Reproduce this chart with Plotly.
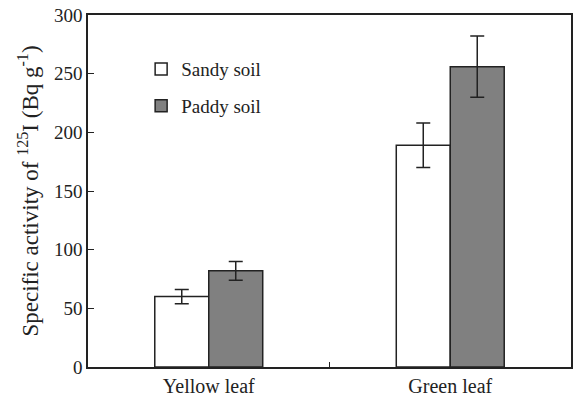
import plotly.graph_objects as go

categories = ["Yellow leaf", "Green leaf"]
sandy_values = [60, 189]
sandy_err = [6, 19]
paddy_values = [82, 256]
paddy_err = [8, 26]
y_ticks = [0, 50, 100, 150, 200, 250, 300]

font_family = "Liberation Serif, Times New Roman, serif"

fig = go.Figure()
fig.add_trace(go.Bar(
    x=categories, y=sandy_values, name="Sandy soil",
    marker=dict(color="white", line=dict(color="#222", width=1.5)),
    error_y=dict(type="data", array=sandy_err, color="#222", thickness=1.5, width=7),
    legendgroup="a",
))
fig.add_trace(go.Bar(
    x=categories, y=paddy_values, name="Paddy soil",
    marker=dict(color="#808080", line=dict(color="#222", width=1.5)),
    error_y=dict(type="data", array=paddy_err, color="#222", thickness=1.5, width=7),
    legendgroup="b",
))

fig.update_layout(
    width=574, height=400,
    margin=dict(l=88, r=3, t=15, b=33),
    paper_bgcolor="white", plot_bgcolor="white",
    barmode="group", bargap=0.553, bargroupgap=0,
    font=dict(family=font_family, size=18, color="#222"),
    legend=dict(
        x=0.11, y=0.9, xanchor="left", yanchor="top",
        bgcolor="rgba(0,0,0,0)", traceorder="grouped", tracegroupgap=9,
        font=dict(size=19, family=font_family, color="#222"),
    ),
    xaxis=dict(
        showline=True, linecolor="#222", linewidth=1.5, mirror=True,
        ticks="inside", ticklen=5, tickcolor="#222", tickson="boundaries",
        tickfont=dict(size=20, family=font_family, color="#222"),
        showgrid=False, automargin=False,
    ),
    yaxis=dict(
        range=[0, 300], tickvals=y_ticks,
        showline=True, linecolor="#222", linewidth=1.5, mirror=True,
        ticks="inside", ticklen=6, tickcolor="#222",
        tickfont=dict(size=19, family=font_family, color="#222"),
        showgrid=False, zeroline=False, automargin=False,
        title=dict(
            text="Specific activity of <sup>125</sup>I (Bq g<sup>-1</sup>)",
            font=dict(size=23, family=font_family, color="#222"),
            standoff=9,
        ),
    ),
)

fig.write_html(
    "out.html",
    config={"displayModeBar": False},
    post_script="document.body.style.margin='0';document.body.style.overflow='hidden';",
)
